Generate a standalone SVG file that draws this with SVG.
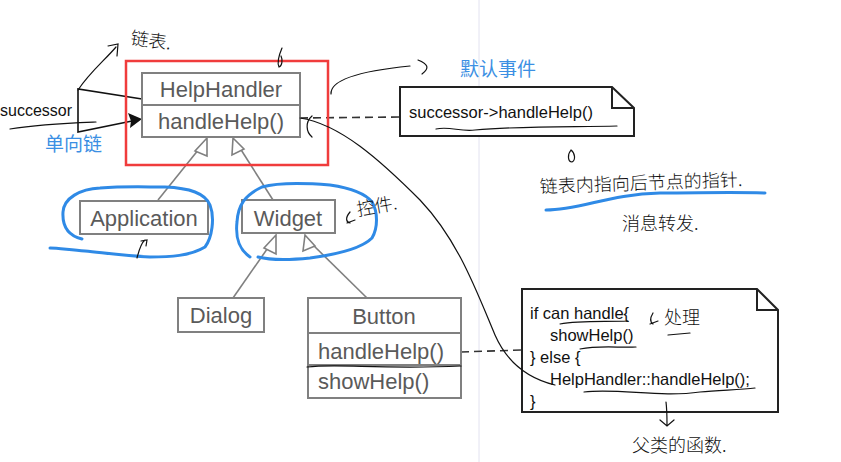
<svg xmlns="http://www.w3.org/2000/svg" width="841" height="462" viewBox="0 0 841 462">
<style>
.box{fill:#fff;stroke:#808080;stroke-width:2}
.uml{font-family:"Liberation Sans",Arial,sans-serif;font-size:22px;fill:#5a5a5a}
.note{fill:#fff;stroke:#222;stroke-width:2}
.nt{font-family:"Liberation Sans",Arial,sans-serif;font-size:16.5px;fill:#111}
.gen{stroke:#808080;stroke-width:1.6;fill:none}
.tri{fill:#fff;stroke:#808080;stroke-width:1.6}
.dash{stroke:#333;stroke-width:1.6;stroke-dasharray:8 5;fill:none}
.hand{stroke:#111;stroke-width:1.2;fill:none;stroke-linecap:round}
.blue{stroke:#2f8ae6;stroke-width:3;fill:none;stroke-linecap:round;stroke-linejoin:round}
.bt{font-family:"Noto Sans CJK SC",sans-serif;font-size:19px;fill:#3b8fe3}
.hw{font-family:"Noto Sans CJK SC",sans-serif;font-size:18px;fill:#111;font-weight:300}
</style>
<rect width="841" height="462" fill="#fff"/>
<line x1="479" y1="0" x2="479" y2="462" stroke="#e2e2f0" stroke-width="1"/>

<g id="connectors">
  <polyline class="gen" points="158,200 203,144"/>
  <polygon class="tri" points="207,138 195,151 207,156"/>
  <polyline class="gen" points="273,200 238,145"/>
  <polygon class="tri" points="233,138 232,155 244,149"/>
  <polyline class="gen" points="233,298 272,242"/>
  <polygon class="tri" points="276,235 264,248 276,254"/>
  <polyline class="gen" points="367,298 310,242"/>
  <polygon class="tri" points="305,235 303,251 315,246"/>
  <line class="dash" x1="300" y1="118" x2="400" y2="117"/>
  <line class="dash" x1="461" y1="352" x2="522" y2="350"/>
  <polyline stroke="#111" stroke-width="1.6" fill="none" points="142,99 78,89 78,132 132,121"/>
  <polygon fill="#111" points="142,119 128,113 131,121 130,128"/>
</g>

<g id="helphandler">
  <rect class="box" x="142" y="73" width="158" height="64"/>
  <line x1="142" y1="105" x2="300" y2="105" stroke="#808080" stroke-width="2"/>
  <text class="uml" x="221" y="97" text-anchor="middle" font-size="23">HelpHandler</text>
  <text class="uml" x="221" y="129" text-anchor="middle">handleHelp()</text>
</g>
<rect x="126" y="61" width="202" height="104" fill="none" stroke="#f03c3c" stroke-width="2.5"/>

<g id="application">
  <rect class="box" x="80" y="201" width="128" height="33"/>
  <text class="uml" x="144" y="226" text-anchor="middle">Application</text>
</g>
<g id="widget">
  <rect class="box" x="242" y="200" width="93" height="33"/>
  <text class="uml" x="288" y="226" text-anchor="middle">Widget</text>
</g>
<g id="dialog">
  <rect class="box" x="178" y="298" width="86" height="34"/>
  <text class="uml" x="221" y="323" text-anchor="middle">Dialog</text>
</g>
<g id="button">
  <rect class="box" x="308" y="298" width="153" height="100"/>
  <line x1="308" y1="333" x2="461" y2="333" stroke="#808080" stroke-width="2"/>
  <line x1="308" y1="365" x2="461" y2="365" stroke="#808080" stroke-width="2"/>
  <text class="uml" x="384" y="324" text-anchor="middle">Button</text>
  <text class="uml" x="318" y="359">handleHelp()</text>
  <text class="uml" x="318" y="389">showHelp()</text>
</g>

<g id="note1">
  <path class="note" d="M400,87 H612 L634,108 V136 H400 Z"/>
  <path d="M612,87 V108 H634" fill="none" stroke="#222" stroke-width="2"/>
  <text class="nt" x="409" y="118">successor-&gt;handleHelp()</text>
</g>
<g id="note2">
  <path class="note" d="M522,289 H757 L778,310 V412 H522 Z"/>
  <path d="M757,289 V310 H778" fill="none" stroke="#222" stroke-width="2"/>
  <text class="nt" x="530" y="319">if can handle{</text>
  <text class="nt" x="550" y="341">showHelp()</text>
  <text class="nt" x="530" y="363">} else {</text>
  <text class="nt" x="550" y="385">HelpHandler::handleHelp();</text>
  <text class="nt" x="530" y="407">}</text>
</g>

<text x="0" y="116" font-family="Liberation Sans,Arial,sans-serif" font-size="16" fill="#111">successor</text>
<text class="bt" x="45" y="151">单向链</text>
<text class="bt" x="460" y="76">默认事件</text>

<g id="annotations">
  <path class="hand" d="M10,129 C40,124 70,123 96,122"/>
  <path class="hand" d="M78,90 C90,72 105,60 116,47 M108,46 L118,44 L117,56"/>
  <text class="hw" x="130" y="44" transform="rotate(8 130 44)">链表.</text>
  <path class="hand" d="M282,48 C279,55 277,63 279,67 C282,66 283,60 281,56"/>
  <path class="hand" d="M331,94 C330,78 370,70 410,66 M418,60 C428,64 430,68 422,74"/>
  <path class="hand" d="M312,116 C305,122 306,132 312,137"/>
  <path class="hand" d="M300,118 C340,124 380,160 420,200 C458,240 476,290 495,335 C506,360 526,378 555,385"/>
  <path class="hand" d="M436,129 C450,126 460,132 475,130 C520,126 570,127 617,126"/>
  <path class="hand" d="M571,150 C567,155 568,162 572,162 C576,160 575,153 571,150"/>
  <text class="hw" x="540" y="193" transform="rotate(-2 540 193)">链表内指向后节点的指针.</text>
  <path class="blue" d="M546,210 C580,210 610,194 660,193 C700,193 730,192 765,193"/>
  <text class="hw" x="622" y="230">消息转发.</text>
  <path class="blue" d="M82,239 C70,236 62,228 63,212 C64,198 80,189 100,188 C125,186 145,187 165,187 C190,188 205,193 210,205 C215,218 212,238 205,247 C190,256 170,257 150,257 C125,256 105,253 85,251 C70,250 58,248 50,248"/>
  <path class="blue" d="M250,257 C240,250 235,240 237,222 C238,205 245,195 262,187 C280,182 305,183 330,185 C350,188 365,193 372,202 C378,212 378,228 372,238 C362,248 340,254 310,258 C290,260 270,260 258,257"/>
  <path class="hand" d="M137,258 C139,250 141,243 145,240 M141,241 L147,240 L146,246"/>
  <path class="hand" d="M350,212 C345,218 346,222 350,223 M347,223 L355,220"/>
  <text class="hw" x="358" y="216" transform="rotate(-10 358 216)">控件.</text>
  <path class="hand" d="M307,367 C340,363 380,370 461,366"/>
  <path class="hand" d="M560,324 C580,320 605,322 628,321"/>
  <path class="hand" d="M580,349 C600,345 620,348 636,347"/>
  <path class="hand" d="M584,392 C620,388 660,398 700,392 C720,390 740,390 755,388"/>
  <path class="hand" d="M653,313 C650,318 650,322 653,324 M650,324 L658,321"/>
  <text class="hw" x="664" y="324">处理</text>
  <path class="hand" d="M668,335 L690,333"/>
  <path class="hand" d="M666,402 C667,410 667,418 667,425 M660,420 L667,426 L674,420"/>
  <text class="hw" x="632" y="452">父类的函数.</text>
</g>
</svg>
